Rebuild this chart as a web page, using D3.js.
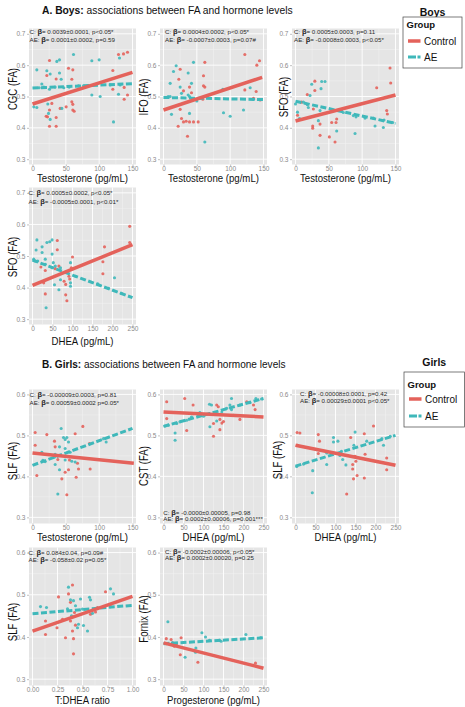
<!DOCTYPE html>
<html><head><meta charset="utf-8">
<script src="https://cdn.jsdelivr.net/npm/d3@7"></script>
<style>body{margin:0;background:#fff}svg{display:block}text{font-family:"Liberation Sans",Arial,sans-serif}</style>
</head><body><script>
// ---------------- DATA ----------------
const groups = ["Control", "AE"];
const yTicksBoys = [0.3, 0.4, 0.5, 0.6, 0.7];
const yTicksGirls = [0.3, 0.4, 0.5, 0.6];
const testoTicks = [0, 50, 100, 150];
const dheaTicks = [0, 50, 100, 150, 200, 250];
const ratioTicks = [0, 0.25, 0.5, 0.75, 1.0];
const ratioTickLabels = ["0.00", "0.25", "0.50", "0.75", "1.00"];

// A1: CGC vs Testosterone (boys)
const boysCgcControl = [[25.5,0.615],[54,0.59],[60.5,0.585],[59,0.555],[35.5,0.556],[21.5,0.567],[29,0.478],[25.5,0.457],[20.5,0.437],[22.5,0.435],[25.5,0.405],[35.5,0.405],[35.5,0.433],[41.5,0.462],[50.5,0.467],[59,0.483],[60.5,0.457],[62.5,0.453],[60.5,0.475],[120.5,0.583],[120.5,0.523],[129,0.634],[136.5,0.636],[142.5,0.641],[137.5,0.491],[142.5,0.505],[137.5,0.529]];
const boysCgcAE = [[6.5,0.585],[6.5,0.465],[2,0.467],[14,0.54],[21.5,0.582],[26.5,0.572],[25.5,0.523],[23,0.476],[24,0.446],[26.5,0.427],[36.5,0.612],[40.5,0.617],[40.5,0.575],[43,0.555],[34,0.53],[44,0.462],[61.5,0.634],[89,0.614],[100,0.617],[101.5,0.5],[89,0.505],[121.5,0.419],[130.5,0.623],[129,0.507],[131.5,0.537],[116.5,0.537],[76.5,0.534],[69,0.534],[82.5,0.534],[10,0.528],[17,0.53],[47,0.528],[55,0.53]];
const boysCgcFit = {Control: [[0,0.476],[150,0.577]], AE: [[0,0.527],[150,0.541]]};
const boysCgcStats = ["C: β= 0.0039±0.0001, p<0.05*", "AE: β= 0.0001±0.0002, p=0.59"];

// A2: IFO vs Testosterone (boys)
const boysIfoControl = [[25,0.587],[23,0.555],[30,0.518],[25,0.459],[27,0.43],[30,0.419],[34,0.421],[39,0.419],[45,0.419],[52,0.419],[22,0.405],[36,0.373],[39,0.53],[42,0.512],[62,0.609],[60,0.534],[62,0.53],[60,0.566],[59,0.491],[122,0.634],[122,0.521],[140,0.6],[144,0.614],[139,0.516],[135,0.494],[145,0.489]];
const boysIfoAE = [[10,0.542],[10,0.5],[12,0.443],[15,0.58],[19,0.598],[25,0.53],[27,0.51],[37,0.575],[37,0.505],[39,0.5],[45,0.609],[39,0.446],[42,0.542],[50,0.486],[62,0.355],[54,0.494],[89,0.523],[90,0.448],[100,0.437],[120,0.457],[130,0.528],[135,0.491],[7,0.5]];
const boysIfoFit = {Control: [[0,0.457],[148,0.561]], AE: [[0,0.497],[150,0.49]]};
const boysIfoStats = ["C: β= 0.0004±0.0002, p<0.05*", "AE: β= -0.0007±0.0003, p=0.07#"];

// A3: SFO vs Testosterone (boys)
const boysSfoTControl = [[29,0.549],[29,0.519],[17.7,0.506],[9,0.482],[26.8,0.46],[25.8,0.406],[25.8,0.399],[36.8,0.412],[36.8,0.376],[54.3,0.417],[60.8,0.417],[61.8,0.428],[50.8,0.371],[59.3,0.355],[121.8,0.528],[141.8,0.591],[142.8,0.543],[136.8,0.455],[137.8,0.444],[3,0.44]];
const boysSfoTAE = [[24.3,0.539],[39.3,0.548],[44.3,0.548],[38.3,0.525],[21.8,0.503],[11.8,0.482],[17.8,0.474],[19.3,0.465],[36.8,0.455],[34.3,0.423],[34.3,0.336],[61.8,0.39],[71.8,0.449],[86.8,0.439],[104.3,0.431],[116.8,0.431],[119.3,0.406],[131.8,0.401],[132.8,0.425],[145.8,0.417],[90.8,0.435],[89.3,0.382],[0,0.476],[3,0.45],[6,0.43]];
const boysSfoTFit = {Control: [[0,0.422],[150,0.505]], AE: [[0,0.485],[150,0.414]]};
const boysSfoTStats = ["C: β= 0.0005±0.0003, p=0.11", "AE: β= -0.0008±0.0003, p<0.05*"];

// A4: SFO vs DHEA (boys)
const boysSfoDControl = [[21,0.465],[32,0.454],[28,0.415],[32,0.38],[62,0.549],[62,0.52],[57,0.46],[79,0.42],[83,0.377],[86,0.358],[91,0.436],[100,0.497],[97,0.463],[83,0.41],[93,0.427],[176,0.444],[176,0.482],[180,0.529],[243,0.594],[243,0.543],[66,0.468]];
const boysSfoDAE = [[11,0.551],[9,0.519],[3,0.49],[7,0.484],[13,0.484],[24,0.529],[24,0.511],[36,0.543],[43,0.545],[49,0.551],[32,0.49],[32,0.474],[49,0.506],[52,0.479],[57,0.468],[49,0.463],[70,0.463],[70,0.425],[55,0.409],[66,0.393],[34,0.336],[95,0.479],[95,0.415],[95,0.404],[85,0.449],[108,0.436],[205,0.431],[163,0.412],[190,0.398],[222,0.382]];
const boysSfoDFit = {Control: [[0,0.407],[250,0.536]], AE: [[0,0.487],[250,0.368]]};
const boysSfoDStats = ["C: β= 0.0005±0.0002, p<0.05*", "AE: β= -0.0005±0.0001, p<0.01*"];

// B1: SLF vs Testosterone (girls)
const girlsSlfTControl = [[4,0.507],[4,0.476],[21.5,0.502],[33,0.486],[34,0.472],[38,0.441],[44,0.394],[51.5,0.355],[54,0.416],[64,0.504],[67.5,0.432],[69,0.418],[65.5,0.398],[75.5,0.522],[85.5,0.48],[86.5,0.418],[55.5,0.44],[49,0.41],[6.5,0.402]];
const girlsSlfTAE = [[14,0.459],[15.5,0.439],[19,0.436],[34,0.454],[33,0.447],[40.5,0.472],[43,0.517],[46.5,0.495],[49,0.49],[51.5,0.495],[54,0.484],[38,0.357],[34,0.429],[40.5,0.416],[49,0.44],[59,0.437],[64,0.435],[56.5,0.459],[106.5,0.492],[110.5,0.484],[49,0.468]];
const girlsSlfTFit = {Control: [[0,0.457],[152,0.432]], AE: [[0,0.427],[150,0.517]]};
const girlsSlfTStats = ["C: β= -0.00009±0.0003, p=0.81", "AE: β= 0.00059±0.0002 p=0.05*"];

// B2: CST vs DHEA (girls)
const girlsCstControl = [[8,0.582],[8,0.541],[53,0.59],[58,0.512],[74,0.574],[74,0.553],[125,0.529],[125,0.498],[133,0.574],[137,0.57],[141,0.539],[146,0.53],[141,0.514],[150,0.534],[191,0.539],[208,0.582],[225,0.574],[229,0.563]];
const girlsCstAE = [[4,0.523],[12,0.525],[29,0.506],[29,0.488],[33,0.529],[41,0.533],[58,0.537],[70,0.545],[87,0.549],[91,0.556],[115,0.576],[120,0.574],[115,0.553],[116,0.521],[133,0.535],[146,0.557],[158,0.566],[166,0.574],[170,0.59],[170,0.563],[191,0.574],[216,0.58],[231,0.59],[245,0.589],[175,0.549],[100,0.547]];
const girlsCstFit = {Control: [[0,0.557],[250,0.545]], AE: [[0,0.522],[250,0.59]]};
const girlsCstStats = ["C: β= -0.0000±0.00005, p=0.98", "AE: β= 0.0002±0.00006, p=0.001***"];

// B3: SLF vs DHEA (girls)
const girlsSlfDControl = [[4,0.507],[5,0.476],[11,0.506],[57,0.502],[60,0.486],[138,0.495],[172,0.504],[195,0.523],[149,0.449],[151,0.437],[143,0.429],[143,0.418],[145,0.394],[154,0.402],[172,0.396],[128,0.357],[174,0.454],[228,0.445],[228,0.416],[57,0.456]];
const girlsSlfDAE = [[3,0.424],[95,0.495],[95,0.484],[78,0.457],[78,0.429],[43,0.414],[42,0.36],[106,0.486],[111,0.451],[115,0.461],[118,0.441],[126,0.428],[149,0.508],[146,0.476],[178,0.486],[216,0.492],[220,0.476],[237,0.498],[20,0.43]];
const girlsSlfDFit = {Control: [[0,0.476],[250,0.427]], AE: [[0,0.425],[250,0.5]]};
const girlsSlfDStats = ["C: β= -0.00008±0.0001, p=0.42", "AE: β= 0.00029±0.0001 p<0.05*"];

// B4: SLF vs T:DHEA ratio (girls)
const girlsSlfRControl = [[0.13,0.438],[0.13,0.406],[0.245,0.422],[0.26,0.495],[0.3,0.442],[0.33,0.398],[0.36,0.502],[0.38,0.482],[0.4,0.523],[0.38,0.438],[0.4,0.414],[0.41,0.396],[0.41,0.36],[0.43,0.428],[0.58,0.454],[0.63,0.459],[0.65,0.47],[0.73,0.507],[0.78,0.472],[0.42,0.458]];
const girlsSlfRAE = [[0.08,0.472],[0.14,0.47],[0.36,0.518],[0.38,0.488],[0.41,0.486],[0.39,0.45],[0.35,0.467],[0.5,0.466],[0.46,0.43],[0.45,0.422],[0.51,0.427],[0.55,0.414],[0.57,0.494],[0.58,0.488],[0.6,0.456],[0.78,0.514],[0.81,0.502],[0.48,0.49],[0.43,0.474]];
const girlsSlfRFit = {Control: [[0,0.414],[1,0.496]], AE: [[0,0.455],[1,0.475]]};
const girlsSlfRStats = ["C: β= 0.084±0.04, p=0.09#", "AE: β= -0.058±0.02 p=0.05*"];

// B5: Fornix vs Progesterone (girls)
const girlsFornixControl = [[7,0.396],[19,0.394],[23,0.386],[27,0.378],[42,0.358],[44,0.398],[86,0.34],[230,0.338],[32,0.382]];
const girlsFornixAE = [[11,0.436],[7,0.384],[22,0.386],[54,0.352],[80,0.364],[81,0.374],[96,0.41],[105,0.4],[115,0.392],[140,0.392],[144,0.39],[206,0.406],[243,0.398]];
const girlsFornixFit = {Control: [[0,0.386],[250,0.326]], AE: [[0,0.384],[250,0.398]]};
const girlsFornixStats = ["C: β= -0.0002±0.00006, p<0.05*", "AE: β= 0.0002±0.00020, p=0.25"];

// ---------------- DRAWING ----------------
const W = 465, H = 707;
const colors = {Control: "#E4625B", AE: "#3FB8BA"};
const svg = d3.select("body").append("svg").attr("width", W).attr("height", H);

function fitX(sel, w, x0) {
  const cw = sel.node().getComputedTextLength();
  sel.attr("transform", `translate(${x0},0) scale(${w / cw},1) translate(${-x0},0)`);
}

const COLS = [29, 160, 292];
const PW = 107;
const yDomBoys = [0.283, 0.717];
const yDomGirls = [0.285, 0.612];
const testoDom = [-5.25, 155.25];
const dheaDom = [-8.75, 258.75];
const ratioDom = [-0.035, 1.035];
const NARROW = 0.8;

function midpoints(t) { const m = []; for (let i = 0; i < t.length - 1; i++) m.push((t[i] + t[i+1]) / 2); return m; }

function panel(c) {
  const left = COLS[c.col];
  const x = d3.scaleLinear().domain(c.xd).range([left, left + PW]);
  const y = d3.scaleLinear().domain(c.yd).range([c.top + c.h, c.top]);
  const g = svg.append("g");
  g.append("rect").attr("x", left).attr("y", c.top).attr("width", PW).attr("height", c.h).attr("fill", "#E5E5E5");
  midpoints(c.yt).forEach(v => g.append("line").attr("x1", left).attr("x2", left + PW).attr("y1", y(v)).attr("y2", y(v)).attr("stroke", "#F2F2F2").attr("stroke-width", 0.5));
  midpoints(c.xt).forEach(v => g.append("line").attr("y1", c.top).attr("y2", c.top + c.h).attr("x1", x(v)).attr("x2", x(v)).attr("stroke", "#F2F2F2").attr("stroke-width", 0.5));
  c.yt.forEach(v => g.append("line").attr("x1", left).attr("x2", left + PW).attr("y1", y(v)).attr("y2", y(v)).attr("stroke", "#fff").attr("stroke-width", 0.9));
  c.xt.forEach(v => g.append("line").attr("y1", c.top).attr("y2", c.top + c.h).attr("x1", x(v)).attr("x2", x(v)).attr("stroke", "#fff").attr("stroke-width", 0.9));
  const yAxis = d3.axisLeft(y).tickValues(c.yt).tickFormat(d3.format(".1f")).tickSize(2).tickPadding(1.5);
  const ya = g.append("g").attr("transform", `translate(${left},0)`).call(yAxis);
  const xAxis = d3.axisBottom(x).tickValues(c.xt).tickFormat((d, i) => c.xl ? c.xl[i] : d).tickSize(1.5).tickPadding(0);
  const xa = g.append("g").attr("transform", `translate(0,${c.top + c.h})`).call(xAxis);
  [ya, xa].forEach(a => {
    a.select(".domain").remove();
    a.selectAll(".tick line").attr("stroke", "#999").attr("stroke-width", 0.6);
    a.selectAll(".tick text").attr("fill", "#8a8a8a").attr("font-size", 6.5);
  });
  const pts = [];
  c.data.Control.forEach(d => pts.push({g: "Control", d}));
  c.data.AE.forEach(d => pts.push({g: "AE", d}));
  g.selectAll("circle.p").data(pts).enter().append("circle")
    .attr("cx", p => x(p.d[0])).attr("cy", p => y(p.d[1])).attr("r", 1.55)
    .attr("fill", p => colors[p.g]).attr("opacity", 0.9);
  const line = d3.line().x(d => x(d[0])).y(d => y(d[1]));
  g.append("path").attr("d", line(c.fit.AE)).attr("fill", "none").attr("stroke", colors.AE).attr("stroke-width", 3).attr("stroke-dasharray", "6,2.5");
  g.append("path").attr("d", line(c.fit.Control)).attr("fill", "none").attr("stroke", colors.Control).attr("stroke-width", 3.5);
  c.stats.forEach((s, i) => {
    const t = g.append("text").attr("x", c.annX).attr("y", c.annY[i]).attr("font-size", 6.2).attr("fill", "#2a2a2a");
    const parts = s.split("β");
    t.append("tspan").text(parts[0]);
    t.append("tspan").text("β").attr("font-weight", "bold").attr("font-size", 7.5);
    t.append("tspan").text(parts[1]);
  });
  const xt = g.append("text").attr("x", left + PW / 2).attr("y", c.xTitleY).attr("text-anchor", "middle").attr("font-size", 11.5).attr("fill", "#111").text(c.xTitle);
  fitX(xt, c.xTitleW, left + PW / 2);
  const yt = g.append("text").attr("transform", `translate(${c.yTitleX},${c.yTitleY}) rotate(-90)`).attr("text-anchor", "middle").attr("dy", "0.35em").attr("font-size", 12).attr("fill", "#111").text(c.yTitle);
  const yl = yt.node().getComputedTextLength();
  yt.attr("textLength", yl * NARROW).attr("lengthAdjust", "spacingAndGlyphs");
}

const rowsA = [{top: 28.5, h: 136}, {top: 187.5, h: 137}];
const rowsB = [{top: 389.5, h: 134}, {top: 547.5, h: 138}];

panel({col: 0, ...rowsA[0], yd: yDomBoys, yt: yTicksBoys, xd: testoDom, xt: testoTicks, data: {Control: boysCgcControl, AE: boysCgcAE}, fit: boysCgcFit, stats: boysCgcStats, annX: 29.5, annY: [34.3, 42], xTitle: "Testosterone (pg/mL)", xTitleW: 91, xTitleY: 182, yTitle: "CGC (FA)", yTitleX: 13, yTitleY: 89});
panel({col: 1, ...rowsA[0], yd: yDomBoys, yt: yTicksBoys, xd: testoDom, xt: testoTicks, data: {Control: boysIfoControl, AE: boysIfoAE}, fit: boysIfoFit, stats: boysIfoStats, annX: 165, annY: [34.3, 42], xTitle: "Testosterone (pg/mL)", xTitleW: 91, xTitleY: 182, yTitle: "IFO (FA)", yTitleX: 144, yTitleY: 97});
panel({col: 2, ...rowsA[0], yd: yDomBoys, yt: yTicksBoys, xd: testoDom, xt: testoTicks, data: {Control: boysSfoTControl, AE: boysSfoTAE}, fit: boysSfoTFit, stats: boysSfoTStats, annX: 294, annY: [34.3, 42], xTitle: "Testosterone (pg/mL)", xTitleW: 91, xTitleY: 182, yTitle: "SFO (FA)", yTitleX: 284, yTitleY: 97});
panel({col: 0, ...rowsA[1], yd: yDomBoys, yt: yTicksBoys, xd: dheaDom, xt: dheaTicks, data: {Control: boysSfoDControl, AE: boysSfoDAE}, fit: boysSfoDFit, stats: boysSfoDStats, annX: 28.5, annY: [194.7, 203.5], xTitle: "DHEA (pg/mL)", xTitleW: 62, xTitleY: 345, yTitle: "SFO (FA)", yTitleX: 12.5, yTitleY: 257});

panel({col: 0, ...rowsB[0], yd: yDomGirls, yt: yTicksGirls, xd: testoDom, xt: testoTicks, data: {Control: girlsSlfTControl, AE: girlsSlfTAE}, fit: girlsSlfTFit, stats: girlsSlfTStats, annX: 29.5, annY: [397, 404.7], xTitle: "Testosterone (pg/mL)", xTitleW: 91, xTitleY: 541.5, yTitle: "SLF (FA)", yTitleX: 12.5, yTitleY: 461});
panel({col: 1, ...rowsB[0], yd: yDomGirls, yt: yTicksGirls, xd: dheaDom, xt: dheaTicks, data: {Control: girlsCstControl, AE: girlsCstAE}, fit: girlsCstFit, stats: girlsCstStats, annX: 163.3, annY: [514.7, 521.3], xTitle: "DHEA (pg/mL)", xTitleW: 62, xTitleY: 541.5, yTitle: "CST (FA)", yTitleX: 144, yTitleY: 466});
panel({col: 2, ...rowsB[0], yd: yDomGirls, yt: yTicksGirls, xd: dheaDom, xt: dheaTicks, data: {Control: girlsSlfDControl, AE: girlsSlfDAE}, fit: girlsSlfDFit, stats: girlsSlfDStats, annX: 300, annY: [396, 402.7], xTitle: "DHEA (pg/mL)", xTitleW: 62, xTitleY: 541.5, yTitle: "SLF (FA)", yTitleX: 278, yTitleY: 460});
panel({col: 0, ...rowsB[1], yd: yDomGirls, yt: yTicksGirls, xd: ratioDom, xt: ratioTicks, xl: ratioTickLabels, data: {Control: girlsSlfRControl, AE: girlsSlfRAE}, fit: girlsSlfRFit, stats: girlsSlfRStats, annX: 28.5, annY: [555.3, 562], xTitle: "T:DHEA ratio", xTitleW: 55, xTitleY: 704, yTitle: "SLF (FA)", yTitleX: 12.5, yTitleY: 622});
panel({col: 1, ...rowsB[1], yd: yDomGirls, yt: yTicksGirls, xd: dheaDom, xt: dheaTicks, data: {Control: girlsFornixControl, AE: girlsFornixAE}, fit: girlsFornixFit, stats: girlsFornixStats, annX: 165, annY: [553.7, 560.3], xTitle: "Progesterone (pg/mL)", xTitleW: 93, xTitleY: 704, yTitle: "Fornix (FA)", yTitleX: 144, yTitleY: 619});

function sectionTitle(bold, rest, x0, yb, w) {
  const t = svg.append("text").attr("x", x0).attr("y", yb).attr("font-family", "Lato, 'Open Sans', sans-serif").attr("font-size", 11.5).attr("fill", "#111");
  t.append("tspan").attr("font-weight", "bold").text(bold);
  t.append("tspan").text(rest);
  fitX(t, w, x0);
}
sectionTitle("A. Boys:", " associations between FA and hormone levels", 42, 13.8, 251);
sectionTitle("B. Girls:", " associations between FA and hormone levels", 42, 368, 244);

function legend(title, x0, x1, y0, y1, titleY, groupY, keyYs) {
  svg.append("text").attr("x", (x0 + x1) / 2).attr("y", titleY).attr("text-anchor", "middle").attr("font-weight", "bold").attr("font-size", 10.5).attr("fill", "#111").text(title);
  svg.append("rect").attr("x", x0).attr("y", y0).attr("width", x1 - x0).attr("height", y1 - y0).attr("fill", "#fff").attr("stroke", "#444").attr("stroke-width", 0.7);
  svg.append("text").attr("x", x0 + 3.5).attr("y", groupY).attr("font-weight", "bold").attr("font-size", 9.5).attr("fill", "#111").text("Group");
  groups.forEach((gname, i) => {
    const yy = keyYs[i];
    const l = svg.append("line").attr("x1", x0 + 5).attr("x2", x0 + 17.5).attr("y1", yy).attr("y2", yy).attr("stroke", colors[gname]).attr("stroke-width", gname === "Control" ? 3.5 : 3);
    if (gname === "AE") l.attr("stroke-dasharray", "8,1.5");
    svg.append("text").attr("x", x0 + 21).attr("y", yy + 3.6).attr("font-size", 10).attr("fill", "#111").text(gname);
  });
}
legend("Boys", 403, 462, 17, 68, 15.5, 28, [41, 57]);
legend("Girls", 404, 464.5, 372, 427, 365.5, 387.5, [399, 416]);
</script></body></html>
